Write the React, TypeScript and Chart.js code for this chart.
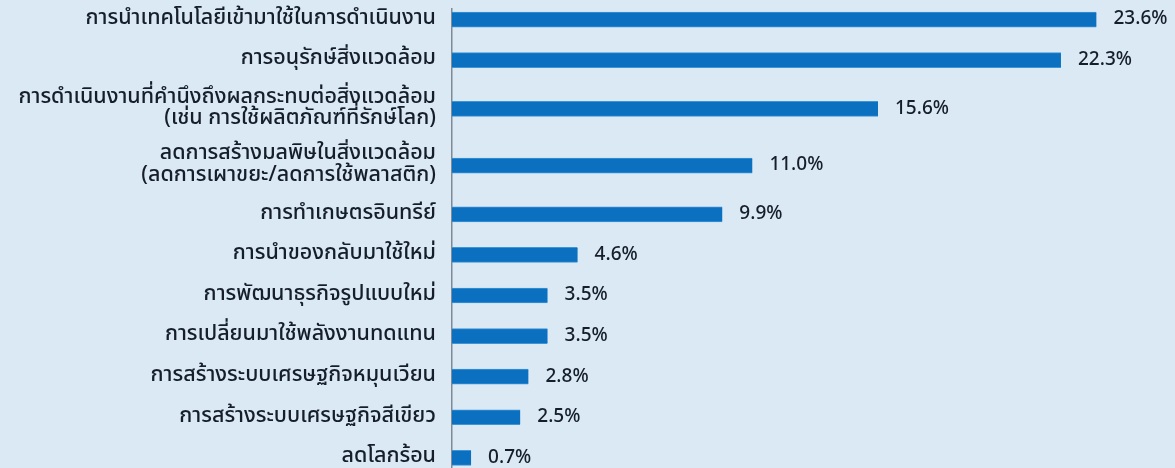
import React, { useEffect, useRef } from "react";
import { Chart, registerables } from "chart.js";

Chart.register(...registerables);

const categories: (string | string[])[] = [
  "การนำเทคโนโลยีเข้ามาใช้ในการดำเนินงาน",
  "การอนุรักษ์สิ่งแวดล้อม",
  ["การดำเนินงานที่คำนึงถึงผลกระทบต่อสิ่งแวดล้อม", "(เช่น การใช้ผลิตภัณฑ์ที่รักษ์โลก)"],
  ["ลดการสร้างมลพิษในสิ่งแวดล้อม", "(ลดการเผาขยะ/ลดการใช้พลาสติก)"],
  "การทำเกษตรอินทรีย์",
  "การนำของกลับมาใช้ใหม่",
  "การพัฒนาธุรกิจรูปแบบใหม่",
  "การเปลี่ยนมาใช้พลังงานทดแทน",
  "การสร้างระบบเศรษฐกิจหมุนเวียน",
  "การสร้างระบบเศรษฐกิจสีเขียว",
  "ลดโลกร้อน",
];

const shares: number[] = [23.6, 22.3, 15.6, 11.0, 9.9, 4.6, 3.5, 3.5, 2.8, 2.5, 0.7];

const FONT = "'Noto Sans Thai', 'Noto Sans', 'DejaVu Sans', sans-serif";
const BG = "#dae9f4";
const BAR = "#0b70bf";
const TEXT = "#161e2c";

// Row layout: two-line labels take a taller row
const rowHeights = categories.map((c) => (Array.isArray(c) ? 1 + 0.4 * (c.length - 1) : 1));
const rowCenters: number[] = [];
{
  let acc = 0;
  rowHeights.forEach((h) => {
    rowCenters.push(acc + h / 2);
    acc += h;
  });
}

const valueLabels = {
  id: "valueLabels",
  afterDatasetsDraw(chart: any) {
    const ctx = chart.ctx;
    const meta = chart.getDatasetMeta(0);
    ctx.save();
    ctx.font = `500 19px ${FONT}`;
    ctx.fillStyle = TEXT;
    ctx.textAlign = "left";
    ctx.textBaseline = "middle";
    meta.data.forEach((bar: any, i: number) => {
      ctx.fillText(shares[i].toFixed(1) + "%", bar.x + 17, bar.y + 1);
    });
    ctx.restore();
  },
};

export default function App() {
  const ref = useRef<HTMLCanvasElement>(null);
  useEffect(() => {
    if (!ref.current) return;
    const chart = new Chart(ref.current, {
      type: "bar",
      data: {
        datasets: [
          {
            data: shares.map((v, i) => ({ x: v, y: rowCenters[i] })),
            backgroundColor: BAR,
            borderColor: "#3d95d6",
            borderWidth: { top: 1, bottom: 1, left: 0, right: 0 },
            borderSkipped: false,
            barThickness: 15,
          },
        ],
      },
      options: {
        indexAxis: "y",
        animation: false,
        responsive: false,
        layout: { padding: { top: 9, right: 13, bottom: 0, left: 0 } },
        plugins: { legend: { display: false }, tooltip: { enabled: false } },
        scales: {
          x: { type: "linear", display: false, min: 0, max: 26 },
          y: {
            type: "linear",
            reverse: true,
            offset: false,
            min: 0.24,
            max: 11.55,
            grid: { display: false, drawTicks: false },
            border: { display: true, color: "#7f8a94", width: 1.5 },
            afterBuildTicks: (s: any) => {
              s.ticks = rowCenters.map((v) => ({ value: v }));
            },
            afterFit: (s: any) => {
              s.width = 452;
              s.paddingTop = 0;
              s.paddingBottom = 0;
            },
            ticks: {
              autoSkip: false,
              padding: 16,
              color: TEXT,
              font: { family: FONT, size: 21.5, weight: "500", lineHeight: 0.98 },
              callback: (_v: any, i: number) => categories[i],
            },
          },
        },
      },
      plugins: [valueLabels],
    });
    return () => chart.destroy();
  }, []);
  return (
    <div style={{ position: "fixed", left: 0, top: 0, width: 1175, height: 468, background: BG }}>
      <canvas ref={ref} width={1175} height={468} />
    </div>
  );
}
